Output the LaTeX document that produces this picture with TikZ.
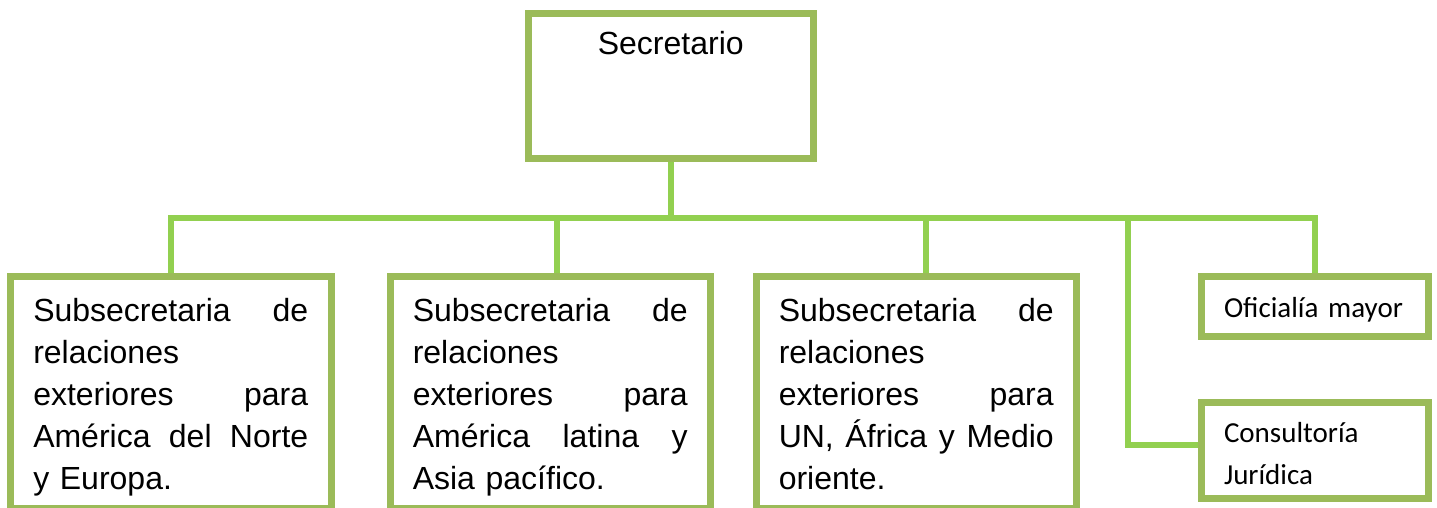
\documentclass[tikz,border=0pt]{standalone}
\usepackage{fontspec}
\setmainfont{Liberation Sans}
\newfontfamily\calibrifont{Carlito}
\definecolor{boxgreen}{HTML}{9BBB59}
\definecolor{linkgreen}{HTML}{92D050}
\newcommand{\topstrut}[1]{\rule{0pt}{#1}}
\newcommand{\botstrut}{\rule[-3.5pt]{0pt}{3.5pt}}

\begin{document}
\begin{tikzpicture}[x = 0.5pt, y = -0.5pt,
		box/.style = {draw = boxgreen, line width = 3.5pt, outer sep = 1.75pt, inner sep = 0pt, anchor = north west},
		sub/.style = {box, minimum width = 160.25pt, minimum height = 116pt, text width = 137.5pt, align = left, font = \fontsize{16}{21}\selectfont},
		small/.style = {box, minimum width = 113.5pt, text width = 91pt, inner xsep = 11.25pt, align = left, font = \calibrifont\fontsize{14.5}{21}\selectfont},
		link/.style = {draw = linkgreen, line width = 3pt}]
		\useasboundingbox (0,0) rectangle (1437,508);
		
		\node [box, minimum width = 142.25pt, text height = 20.75pt, text depth = 52pt, font = \fontsize{16}{21}\selectfont] (sec) at (525,10) {Secretario};
		
		\node [sub] (box1) at (7,273) {\topstrut{16.7pt}Subsecretaria\hfill de\\ relaciones\\ exteriores\hfill para\\ América\hfill del\hfill Norte\\ y Europa.\botstrut};
		\node [sub] (box2) at (386.5,273) {\topstrut{16.7pt}Subsecretaria\hfill de\\ relaciones\\ exteriores\hfill para\\ América\hfill latina\hfill y\\ Asia pacífico.\botstrut};
		\node [sub] (box3) at (752.5,273) {\topstrut{16.7pt}Subsecretaria\hfill de\\ relaciones\\ exteriores\hfill para\\ UN,\hfill África\hfill y\hfill Medio\\ oriente.\botstrut};
		
		\node [small, minimum height = 30pt] (ofi) at (1198,273) {\topstrut{13.5pt}Oficialía mayor};
		\node [small, minimum height = 48pt] (cons) at (1198,399) {\topstrut{13.5pt}Consultoría\\ Jurídica};
		
		\coordinate (bus) at (668.5,218);
		\coordinate (tap) at (1128,218);
		
		\begin{scope}[link]
			\draw (sec.south) -- (sec.south |- bus);
			\draw (box1.north) |- (ofi.north |- bus) -- (ofi.north);
			\draw ([xshift = 3.4pt]box2.north) |- (bus);
			\draw ([xshift = 5.1pt]box3.north) |- (bus);
			\draw (tap) |- ([yshift = 2.75pt]cons.west);
		\end{scope}
	\end{tikzpicture}
\end{document}
